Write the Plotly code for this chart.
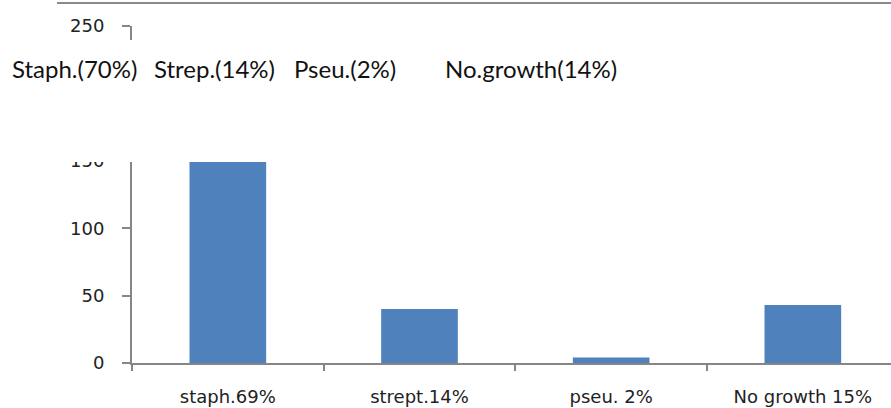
import plotly.graph_objects as go

categories = ["staph.69%", "strept.14%", "pseu. 2%", "No growth 15%"]
counts = [199, 40, 4, 43]
overlay_labels = ["Staph.(70%)", "Strep.(14%)", "Pseu.(2%)", "No.growth(14%)"]
y_ticks = [0, 50, 100, 150, 200, 250]

W, H = 891, 408
L, R, T, B = 132, 0, 26, 45
PW, PH = W - L - R, H - T - B


def px(xp):
    return (xp - L) / PW


def py(yp):
    return (H - B - yp) / PH


fig = go.Figure()
fig.add_trace(go.Bar(x=categories, y=counts, width=0.4,
                     marker=dict(color="#4F81BD", line=dict(width=0))))

axis_font = dict(family="DejaVu Sans", size=18, color="#222222")
fig.update_layout(
    width=W, height=H,
    margin=dict(l=L, r=R, t=T, b=B, pad=0),
    paper_bgcolor="white", plot_bgcolor="white",
    showlegend=False,
    xaxis=dict(type="category", range=[-0.5, 3.46], tickson="boundaries",
               ticks="outside", ticklen=6, tickcolor="#868686", tickwidth=2,
               showline=True, linecolor="#868686", linewidth=2,
               showgrid=False, tickfont=axis_font, ticklabelstandoff=16,
               fixedrange=True),
    yaxis=dict(range=[0, 250], tickvals=y_ticks, ticks="outside", ticklen=8,
               tickcolor="#868686", tickwidth=2, showline=True,
               linecolor="#868686", linewidth=2, showgrid=False,
               zeroline=False, tickfont=axis_font, ticklabelstandoff=14,
               fixedrange=True),
)

# white text box overlay covering upper part of chart
fig.add_shape(type="rect", xref="paper", yref="paper",
              x0=px(0), x1=px(W), y0=py(162), y1=py(40),
              fillcolor="white", line=dict(width=0), layer="above")
# top border line
fig.add_shape(type="line", xref="paper", yref="paper",
              x0=px(57), x1=px(W), y0=py(3), y1=py(3),
              line=dict(color="#8a8a8a", width=2), layer="above")

label_x = [10, 152, 292, 443]
for lx, txt in zip(label_x, overlay_labels):
    fig.add_annotation(text=txt, xref="paper", yref="paper",
                       x=px(lx), y=py(68), xanchor="left", yanchor="middle",
                       showarrow=False,
                       font=dict(family="Lato", size=24, color="#111111"))

fig.write_html("out.html", config={"displayModeBar": False},
               post_script="document.body.style.margin='0px';document.body.style.overflow='hidden';")
